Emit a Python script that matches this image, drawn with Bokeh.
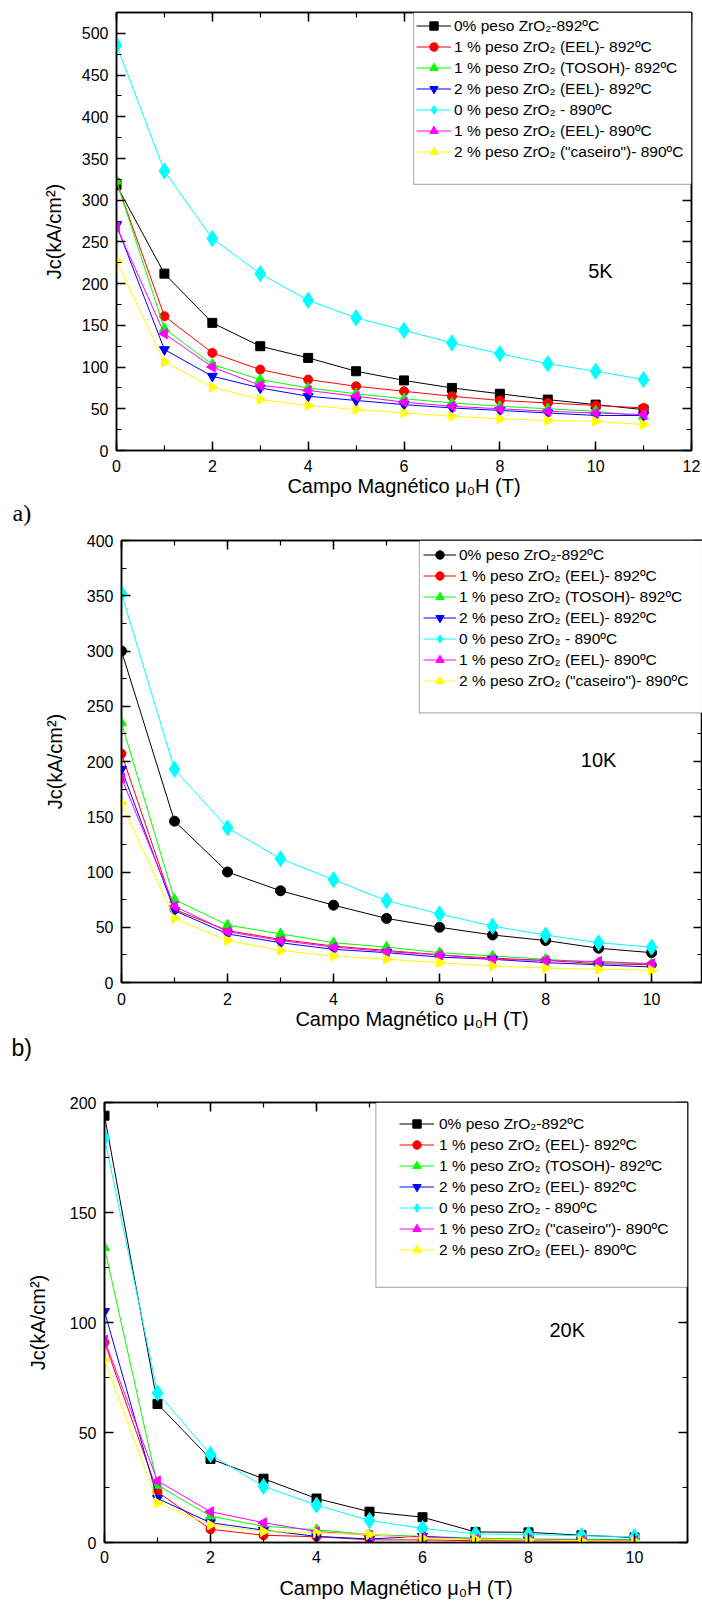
from math import pi
from bokeh.plotting import figure
from bokeh.models import (Range1d, SingleIntervalTicker, LinearAxis, Legend, LegendItem,
                          BoxAnnotation, Label, Title, CustomJSTickFormatter)
from bokeh.layouts import column
from bokeh.embed import file_html
from bokeh.resources import INLINE

FONT = "Liberation Sans"

# ---------------- data ----------------
# Panel a) 5 K
field_a = [0, 1, 2, 3, 4, 5, 6, 7, 8, 9, 10, 11]
a_0pct_892 = [318, 212, 153, 125, 111, 95, 84, 75, 68, 61, 55, 49]
a_1pct_eel_892 = [322, 161, 117, 97, 85, 77, 71, 65, 60, 57, 54, 51]
a_1pct_tosoh_892 = [323, 146, 103, 85, 75, 68, 62, 57, 53, 50, 47, 41]
a_2pct_eel_892 = [270, 121, 89, 75, 65, 60, 55, 51, 48, 45, 42, 42]
a_0pct_890 = [486, 335, 254, 212, 180, 159, 144, 129, 116, 104, 95, 85]
a_1pct_eel_890 = [268, 140, 100, 78, 72, 65, 58, 53, 50, 47, 45, 43]
a_2pct_caseiro_890 = [227, 106, 76, 61, 54, 49, 45, 41, 38, 36, 35, 31]

# Panel b) 10 K
field_b = [0, 1, 2, 3, 4, 5, 6, 7, 8, 9, 10]
b_0pct_892 = [300, 146, 100, 83, 70, 58, 50, 43, 38, 31, 27]
b_1pct_eel_892 = [207, 66, 47, 39, 33, 29, 25, 22, 20, 17, 16]
b_1pct_tosoh_892 = [235, 75, 52, 44, 36, 32, 27, 24, 21, 18, 17]
b_2pct_eel_892 = [193, 65, 44, 36, 30, 27, 23, 21, 18, 16, 14]
b_0pct_890 = [352, 193, 140, 112, 93, 74, 62, 51, 43, 36, 32]
b_1pct_eel_890 = [185, 69, 46, 38, 32, 28, 25, 21, 20, 19, 17]
b_2pct_caseiro_890 = [162, 58, 38, 29, 24, 21, 18, 15, 13, 12, 11]

# Panel c) 20 K
field_c = [0, 1, 2, 3, 4, 5, 6, 7, 8, 9, 10]
c_0pct_892 = [194, 63, 38, 29, 20, 14, 11.5, 4.8, 4.6, 3.3, 2.3]
c_1pct_eel_892 = [91, 23, 6, 3.3, 2.6, 1.2, 1.2, 0.8, 0.7, 0.7, 0.7]
c_1pct_tosoh_892 = [134, 26, 12, 7.4, 5.8, 3.6, 2.8, 2.0, 1.6, 1.5, 1.2]
c_2pct_eel_892 = [105, 20, 9, 5.6, 2.8, 1.6, 2.8, 1.5, 1.2, 1.0, 1.0]
c_0pct_890 = [184, 68, 40, 25.5, 17, 10, 6.4, 3.9, 3.6, 3.1, 2.6]
c_1pct_caseiro_890 = [92, 28, 14, 9, 5, 3.3, 2.5, 1.5, 1.2, 1.0, 0.8]
c_2pct_eel_890 = [83, 18, 8, 5, 4.4, 3.6, 2.0, 1.5, 1.2, 0.8, 0.7]

labels_ab = ["0% peso ZrO\u2082-892\u00baC",
             "1 % peso ZrO\u2082 (EEL)- 892\u00baC",
             "1 % peso ZrO\u2082 (TOSOH)- 892\u00baC",
             "2 % peso ZrO\u2082 (EEL)- 892\u00baC",
             "0 % peso ZrO\u2082 - 890\u00baC",
             "1 % peso ZrO\u2082 (EEL)- 890\u00baC",
             "2 % peso ZrO\u2082 (\"caseiro\")- 890\u00baC"]
labels_c = ["0% peso ZrO\u2082-892\u00baC",
            "1 % peso ZrO\u2082 (EEL)- 892\u00baC",
            "1 % peso ZrO\u2082 (TOSOH)- 892\u00baC",
            "2 % peso ZrO\u2082 (EEL)- 892\u00baC",
            "0 % peso ZrO\u2082 - 890\u00baC",
            "1 % peso ZrO\u2082 (\"caseiro\")- 890\u00baC",
            "2 % peso ZrO\u2082 (EEL)- 890\u00baC"]

colors = ["#000000", "#FF0000", "#00FF00", "#0000FF", "#00FFFF", "#FF00FF", "#FFFF00"]
# (marker, angle, size)
markers_a = [("square", 0, 9), ("circle", 0, 9), ("triangle", 0, 10), ("inverted_triangle", 0, 10),
             ("diamond", 0, 16), ("triangle", pi / 2, 10), ("triangle", -pi / 2, 10)]
markers_b = [("circle", 0, 10)] + markers_a[1:]

x_title = "Campo Magn\u00e9tico \u03bc\u2080H (T)"
y_title = "Jc(kA/cm\u00b2)"


def make_panel(x, series, labels, markers, xmax, ymax, height, borders,
               xlab_standoff, xtitle_standoff, ytitle_standoff,
               box_left, box_bottom, leg_loc, leg_padding, leg_glyph_w, leg_standoff,
               temp_text, temp_x, temp_y):
    bl, br, bt, bb = borders
    p = figure(width=702, height=height, output_backend="svg", toolbar_location=None,
               x_range=Range1d(0, xmax), y_range=Range1d(0, ymax), frame_align=False,
               min_border_left=bl, min_border_right=br, min_border_top=bt, min_border_bottom=bb)
    p.xgrid.visible = False
    p.ygrid.visible = False
    p.outline_line_color = "black"
    p.outline_line_width = 1.5
    p.background_fill_color = "white"
    p.border_fill_color = "white"

    for ax in (p.xaxis[0], p.yaxis[0]):
        ax.major_tick_in = 9
        ax.major_tick_out = 0
        ax.minor_tick_in = 5
        ax.minor_tick_out = 0
        ax.axis_line_width = 1.5
        ax.major_tick_line_width = 1.5
        ax.minor_tick_line_width = 1.2
        ax.major_label_text_font = FONT
        ax.major_label_text_font_size = "16px"
        ax.major_label_text_color = "black"
        ax.axis_label_text_font = FONT
        ax.axis_label_text_font_size = "20px"
        ax.axis_label_text_font_style = "normal"
        ax.axis_label_text_color = "black"
    p.xaxis[0].ticker = SingleIntervalTicker(interval=2, num_minor_ticks=2)
    p.yaxis[0].ticker = SingleIntervalTicker(interval=50, num_minor_ticks=2)
    p.xaxis[0].axis_label = x_title
    p.yaxis[0].axis_label = y_title
    p.xaxis[0].major_label_standoff = xlab_standoff
    p.xaxis[0].axis_label_standoff = xtitle_standoff
    p.yaxis[0].major_label_standoff = 8
    p.yaxis[0].axis_label_standoff = ytitle_standoff

    # mirrored tick marks on top and right, without labels
    for place, iv in (("above", 2), ("right", 50)):
        ax = LinearAxis(ticker=SingleIntervalTicker(interval=iv, num_minor_ticks=2),
                        formatter=CustomJSTickFormatter(code="return ''"),
                        major_label_text_font_size="0px", major_label_standoff=0,
                        major_tick_in=9, major_tick_out=0, minor_tick_in=5, minor_tick_out=0,
                        axis_line_width=1.5, major_tick_line_width=1.5, minor_tick_line_width=1.2)
        p.add_layout(ax, place)

    items = []
    for ys, lab, col, (mk, ang, sz) in zip(series, labels, colors, markers):
        lr = p.line(x, ys, line_color=col, line_width=1)
        sr = p.scatter(x, ys, marker=mk, angle=ang, size=sz, fill_color=col, line_color=col)
        items.append(LegendItem(label=lab, renderers=[lr, sr]))

    box = BoxAnnotation(left=box_left, right=xmax, bottom=box_bottom, top=ymax,
                        fill_color="white", fill_alpha=1.0, line_color="black", line_width=1.2)
    p.add_layout(box)

    leg = Legend(items=items, location=leg_loc, margin=0, padding=leg_padding,
                 spacing=0, glyph_width=leg_glyph_w, glyph_height=21, label_height=21,
                 label_standoff=leg_standoff,
                 label_text_font=FONT, label_text_font_size="15.5px", label_text_color="black",
                 background_fill_alpha=0.0, border_line_alpha=0.0)
    p.add_layout(leg, "center")

    p.add_layout(Label(x=temp_x, y=temp_y, text=temp_text, text_font=FONT,
                       text_font_size="20px", text_align="center", text_baseline="middle",
                       text_color="black"))
    return p


pa = make_panel(field_a,
                [a_0pct_892, a_1pct_eel_892, a_1pct_tosoh_892, a_2pct_eel_892,
                 a_0pct_890, a_1pct_eel_890, a_2pct_caseiro_890],
                labels_ab, markers_a, 12, 525, 530, (116, 11, 12, 80),
                9, 0, 14,
                6.2, 319, (297, 285), 3, 35, 3,
                "5K", 10.1, 215)
pa.add_layout(Title(text="a)", align="left", offset=-104, standoff=0, vertical_align="top",
                    text_font="Liberation Serif", text_font_size="24px", text_line_height=0.85,
                    text_font_style="normal", text_color="black"), "below")

pb = make_panel(field_b,
                [b_0pct_892, b_1pct_eel_892, b_1pct_tosoh_892, b_2pct_eel_892,
                 b_0pct_890, b_1pct_eel_890, b_2pct_caseiro_890],
                labels_ab, markers_b, 10.96, 400, 535, (121, 0, 10, 83),
                10, 0, 18,
                5.62, 244, (298, 287), 4, 33, 3,
                "10K", 9.0, 201)
pb.add_layout(Title(text="b)", align="left", offset=-110, standoff=0,
                    text_font=FONT, text_font_size="23px",
                    text_font_style="normal", text_color="black"), "below")

pc = make_panel(field_c,
                [c_0pct_892, c_1pct_eel_892, c_1pct_tosoh_892, c_2pct_eel_892,
                 c_0pct_890, c_1pct_caseiro_890, c_2pct_eel_890],
                labels_c, markers_a, 11, 200, 540, (104, 15, 37, 63),
                8, 11, 18,
                5.12, 116, (284, 271), 11, 35, 5,
                "20K", 8.73, 96.4)

layout = column(pa, pb, pc, spacing=0)
open("out.html", "w").write(file_html(layout, INLINE))
